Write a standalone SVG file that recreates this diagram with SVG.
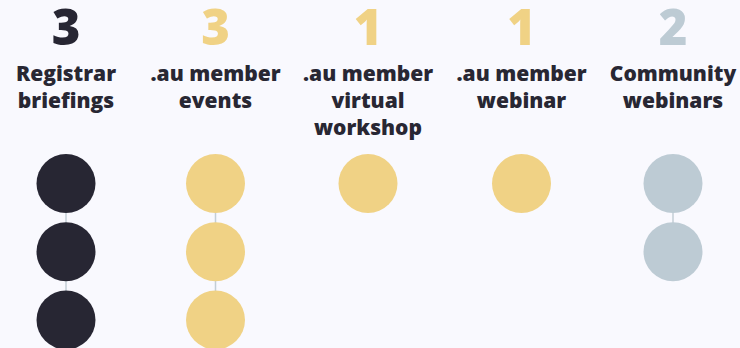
<svg xmlns="http://www.w3.org/2000/svg" width="740" height="348" viewBox="0 0 740 348">
<style>
.num{font-family:"Open Sans","Liberation Sans",sans-serif;font-weight:800;font-size:49px;text-anchor:middle}
.lbl{font-family:"Open Sans","Liberation Sans",sans-serif;font-weight:800;font-size:21px;fill:#282733;text-anchor:middle}
.dark{fill:#272633}
.yel{fill:#f0d285}
.blu{fill:#bdcbd4}
.conn line{stroke:#c3ced6;stroke-width:1.5}
</style>
<rect width="740" height="348" fill="#f9f9fe"/>
<g class="conn">
<line x1="66" y1="183" x2="66" y2="320"/>
<line x1="215.5" y1="183" x2="215.5" y2="320"/>
<line x1="673" y1="183" x2="673" y2="252"/>
</g>
<g id="registrar-briefings">
<text class="num dark" x="66" y="45">3</text>
<text class="lbl" x="66" y="81">Registrar</text>
<text class="lbl" x="66" y="108">briefings</text>
<circle class="dark" cx="66" cy="183.5" r="29.5"/>
<circle class="dark" cx="66" cy="251.7" r="29.5"/>
<circle class="dark" cx="66" cy="320" r="29.5"/>
</g>
<g id="au-member-events">
<text class="num yel" x="215.5" y="45">3</text>
<text class="lbl" x="215.5" y="81">.au member</text>
<text class="lbl" x="215.5" y="108">events</text>
<circle class="yel" cx="215.5" cy="183.5" r="29.5"/>
<circle class="yel" cx="215.5" cy="251.7" r="29.5"/>
<circle class="yel" cx="215.5" cy="320" r="29.5"/>
</g>
<g id="au-member-virtual-workshop">
<text class="num yel" x="368" y="45">1</text>
<text class="lbl" x="368" y="81">.au member</text>
<text class="lbl" x="368" y="108">virtual</text>
<text class="lbl" x="368" y="135">workshop</text>
<circle class="yel" cx="368" cy="183.5" r="29.5"/>
</g>
<g id="au-member-webinar">
<text class="num yel" x="521.5" y="45">1</text>
<text class="lbl" x="521.5" y="81">.au member</text>
<text class="lbl" x="521.5" y="108">webinar</text>
<circle class="yel" cx="521.5" cy="183.5" r="29.5"/>
</g>
<g id="community-webinars">
<text class="num blu" x="673" y="45">2</text>
<text class="lbl" x="673" y="81">Community</text>
<text class="lbl" x="673" y="108">webinars</text>
<circle class="blu" cx="673" cy="183.5" r="29.5"/>
<circle class="blu" cx="673" cy="251.7" r="29.5"/>
</g>
</svg>
